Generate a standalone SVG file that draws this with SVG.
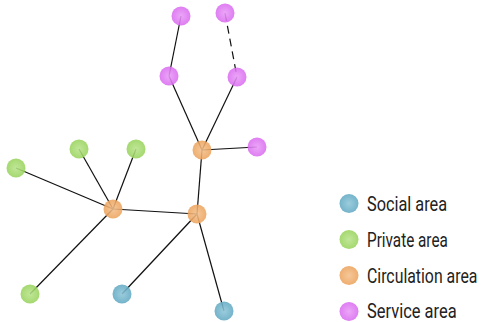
<svg xmlns="http://www.w3.org/2000/svg" width="482" height="322" viewBox="0 0 482 322">
<style>
.edge{stroke:#111;stroke-width:1.2;fill:none}
.dash{stroke-dasharray:8,5}
.n{opacity:0.88}
.soc{fill:url(#gSoc)}
.pri{fill:url(#gPri)}
.cir{fill:url(#gCir)}
.ser{fill:url(#gSer)}
.lbl{font-family:"Roboto","Liberation Sans",sans-serif;font-size:20px;fill:#222}
</style>
<defs>
<radialGradient id="gSoc"><stop offset="0" stop-color="#8ec6d8"/><stop offset="1" stop-color="#62a9c3"/></radialGradient>
<radialGradient id="gPri"><stop offset="0" stop-color="#b8e38a"/><stop offset="1" stop-color="#98d35c"/></radialGradient>
<radialGradient id="gCir"><stop offset="0" stop-color="#f4c08c"/><stop offset="1" stop-color="#eca35c"/></radialGradient>
<radialGradient id="gSer"><stop offset="0" stop-color="#e99af7"/><stop offset="1" stop-color="#da6cf0"/></radialGradient>
</defs>
<g id="connectors">
<line class="edge" x1="181" y1="16" x2="169" y2="76"/>
<line class="edge dash" x1="225" y1="13" x2="237" y2="77"/>
<line class="edge" x1="169" y1="76" x2="202" y2="150"/>
<line class="edge" x1="237" y1="77" x2="202" y2="150"/>
<line class="edge" x1="202" y1="150" x2="257" y2="147"/>
<line class="edge" x1="202" y1="150" x2="197" y2="214"/>
<line class="edge" x1="197" y1="214" x2="113" y2="209"/>
<line class="edge" x1="113" y1="209" x2="16" y2="168"/>
<line class="edge" x1="113" y1="209" x2="79" y2="149"/>
<line class="edge" x1="113" y1="209" x2="136" y2="149"/>
<line class="edge" x1="113" y1="209" x2="30" y2="294"/>
<line class="edge" x1="197" y1="214" x2="122" y2="294"/>
<line class="edge" x1="197" y1="214" x2="224" y2="311"/>
</g>
<g id="n-s1"><circle class="n ser" cx="181" cy="16" r="9.5"/></g>
<g id="n-s2"><circle class="n ser" cx="225" cy="13" r="9.5"/></g>
<g id="n-s3"><circle class="n ser" cx="169" cy="76" r="9.5"/></g>
<g id="n-s4"><circle class="n ser" cx="237" cy="77" r="9.5"/></g>
<g id="n-s5"><circle class="n ser" cx="257" cy="147" r="9.5"/></g>
<g id="n-c1"><circle class="n cir" cx="202" cy="150" r="9.5"/></g>
<g id="n-c2"><circle class="n cir" cx="197" cy="214" r="9.5"/></g>
<g id="n-c3"><circle class="n cir" cx="113" cy="209" r="9.5"/></g>
<g id="n-p1"><circle class="n pri" cx="16" cy="168" r="9.5"/></g>
<g id="n-p2"><circle class="n pri" cx="79" cy="149" r="9.5"/></g>
<g id="n-p3"><circle class="n pri" cx="136" cy="149" r="9.5"/></g>
<g id="n-p4"><circle class="n pri" cx="30" cy="294" r="9.5"/></g>
<g id="n-o1"><circle class="n soc" cx="122" cy="294" r="9.5"/></g>
<g id="n-o2"><circle class="n soc" cx="224" cy="311" r="9.5"/></g>
<g id="legend">
<circle class="n soc" cx="349" cy="203.5" r="9.5"/>
<text class="lbl" transform="translate(367,210.5) scale(0.8,1)" textLength="100" lengthAdjust="spacingAndGlyphs">Social area</text>
<circle class="n pri" cx="349" cy="239.5" r="9.5"/>
<text class="lbl" transform="translate(367,246.5) scale(0.8,1)" textLength="101" lengthAdjust="spacingAndGlyphs">Private area</text>
<circle class="n cir" cx="349" cy="275.5" r="9.5"/>
<text class="lbl" transform="translate(367,282.5) scale(0.8,1)" textLength="138" lengthAdjust="spacingAndGlyphs">Circulation area</text>
<circle class="n ser" cx="349" cy="311.5" r="9.5"/>
<text class="lbl" transform="translate(367,317.5) scale(0.8,1)" textLength="112" lengthAdjust="spacingAndGlyphs">Service area</text>
</g>
</svg>
